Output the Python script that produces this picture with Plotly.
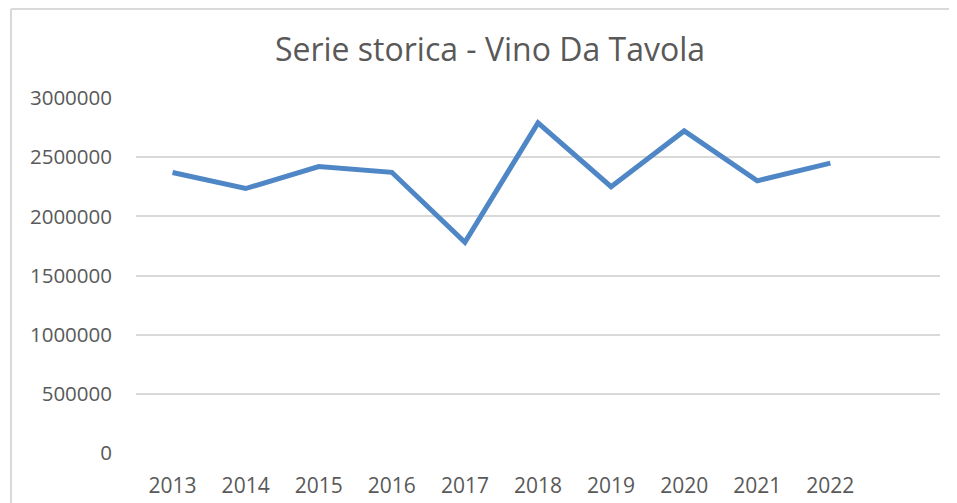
import plotly.graph_objects as go

years = ["2013", "2014", "2015", "2016", "2017", "2018", "2019", "2020", "2021", "2022"]
values = [2370000, 2235000, 2420000, 2372000, 1780000, 2790000, 2250000, 2722000, 2300000, 2450000]
y_ticks = [0, 500000, 1000000, 1500000, 2000000, 2500000, 3000000]
title_text = "Serie storica - Vino Da Tavola"

OFF = 8  # default body margin of the html page
W, H = 957 - OFF, 503 - OFF
L, R, T, B = 136 - OFF, 17, 98 - OFF, 50
pw, ph = W - L - R, H - T - B

fig = go.Figure()
fig.add_trace(go.Scatter(
    x=list(range(len(years))), y=values, mode="lines",
    line=dict(color="#4F87C6", width=5), hoverinfo="skip", showlegend=False,
))

font_family = "Open Sans, Lato, sans-serif"
fig.update_layout(
    width=W, height=H,
    margin=dict(l=L, r=R, t=T, b=B, autoexpand=False),
    paper_bgcolor="white", plot_bgcolor="white",
    title=dict(text=title_text, x=(490 - OFF - L) / pw, xref="paper", xanchor="center",
               y=1 - (50 - OFF) / H, yanchor="middle",
               font=dict(family=font_family, size=32, color="#595959")),
    xaxis=dict(range=[-0.5, 10.5], tickmode="array", tickvals=list(range(len(years))),
               ticktext=years, showgrid=False, zeroline=False, showline=False,
               ticks="", ticklabelstandoff=18, automargin=False,
               tickfont=dict(family=font_family, size=21, color="#595959")),
    yaxis=dict(range=[0, 3000000], tickmode="array", tickvals=y_ticks,
               ticktext=[str(v) for v in y_ticks], showgrid=True, gridcolor="#D9D9D9",
               gridwidth=2, zeroline=False, showline=False, ticks="",
               ticklabelstandoff=23, automargin=False,
               tickfont=dict(family=font_family, size=20.5, color="#595959")),
)

# chart frame (left and top edges visible)
fx = (11 - OFF - L) / pw
fy = (H - B - (9 - OFF)) / ph
fig.add_shape(type="line", xref="paper", yref="paper",
              x0=fx, x1=fx, y0=fy, y1=(H - B - (H + 5)) / ph,
              line=dict(color="#D9D9D9", width=2))
fig.add_shape(type="line", xref="paper", yref="paper",
              x0=fx, x1=(W - L) / pw, y0=fy, y1=fy,
              line=dict(color="#D9D9D9", width=2))

fig.write_html("out.html", config={"displayModeBar": False})
